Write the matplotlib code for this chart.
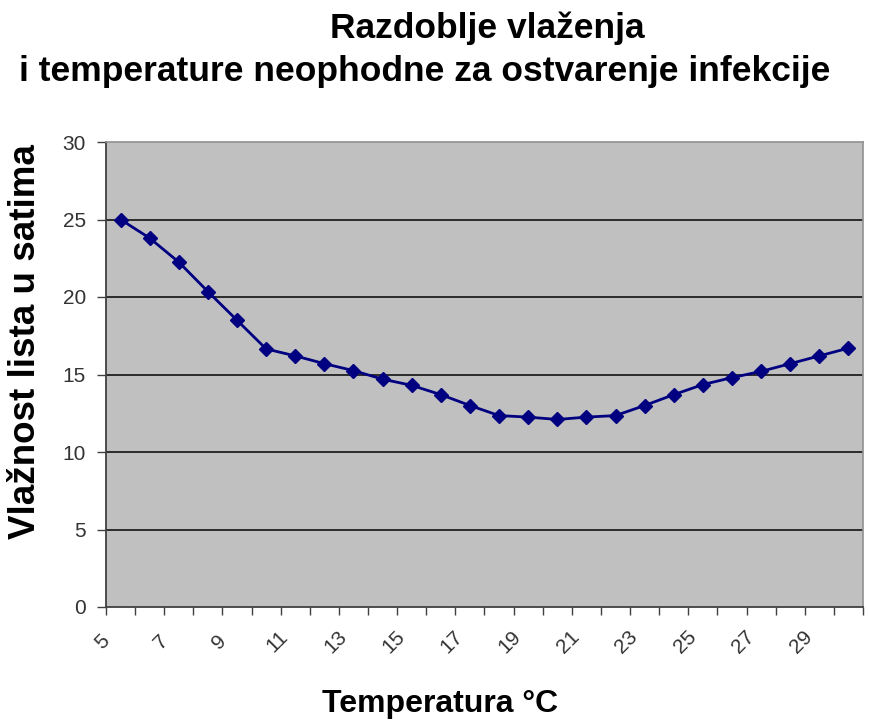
import matplotlib.pyplot as plt
from matplotlib.transforms import ScaledTranslation

# data
temperatures = list(range(5, 31))
wet_hours = [25.0, 23.8, 22.25, 20.35, 18.5, 16.65, 16.2, 15.7, 15.25, 14.7,
             14.3, 13.7, 13.0, 12.35, 12.25, 12.1, 12.25, 12.35, 13.0, 13.7,
             14.35, 14.8, 15.2, 15.7, 16.2, 16.7]
tick_temps = list(range(5, 30, 2))
y_ticks = [0, 5, 10, 15, 20, 25, 30]

title_1 = "Razdoblje vlaženja"
title_2 = "i temperature neophodne za ostvarenje infekcije"
x_title = "Temperatura °C"
y_title = "Vlažnost lista u satima"

plt.rcParams["font.family"] = ["Liberation Sans", "DejaVu Sans"]

fig = plt.figure(figsize=(8.7, 7.22), dpi=100)
W, H = 870, 722
ax = fig.add_axes([106 / W, 1 - 607 / H, (863 - 106) / W, (607 - 142) / H])
ax.set_facecolor("#c0c0c0")

ax.plot(temperatures, wet_hours, color="#000080", lw=2, marker="D",
        markersize=7, zorder=3)

ax.set_xlim(4.5, 30.5)
ax.set_ylim(0, 30)

# horizontal gridlines
ax.set_yticks(y_ticks)
for y in y_ticks[1:-1]:
    ax.axhline(y, color="#202020", lw=1.3, zorder=1)

for side in ["top", "right"]:
    ax.spines[side].set_color("#909090")
    ax.spines[side].set_linewidth(1.2)
for side in ["left", "bottom"]:
    ax.spines[side].set_color("#404040")
    ax.spines[side].set_linewidth(1.3)

ax.tick_params(axis="y", direction="out", length=6.5, width=1, color="#404040",
               labelsize=15, labelcolor="#333333", pad=8)

# x: ticks between categories, labels on every other category
ax.set_xticks([t - 0.5 for t in temperatures] + [30.5], minor=True)
ax.tick_params(axis="x", which="minor", direction="out", length=6, width=1,
               color="#404040")
ax.set_xticks(tick_temps)
ax.set_xticklabels([str(t) for t in tick_temps], rotation=45, ha="center",
                   va="center", rotation_mode="anchor")
ax.tick_params(axis="x", which="major", length=0, labelsize=15,
               labelcolor="#333333", pad=25)
shift = ScaledTranslation(-0.18, 0, fig.dpi_scale_trans)
for lab in ax.get_xticklabels():
    lab.set_transform(lab.get_transform() + shift)

fig.text(487 / W, 1 - 38 / H, title_1, ha="center", va="baseline",
         fontsize=25.5, fontweight="bold")
fig.text(425 / W, 1 - 81 / H, title_2, ha="center", va="baseline",
         fontsize=25.5, fontweight="bold")
fig.text(440 / W, 1 - 712 / H, x_title, ha="center", va="baseline",
         fontsize=23, fontweight="bold")
fig.text(26 / W, 1 - 342 / H, y_title, ha="center", va="center",
         rotation=90, fontsize=26.5, fontweight="bold")

fig.savefig("out.png", dpi=100)
